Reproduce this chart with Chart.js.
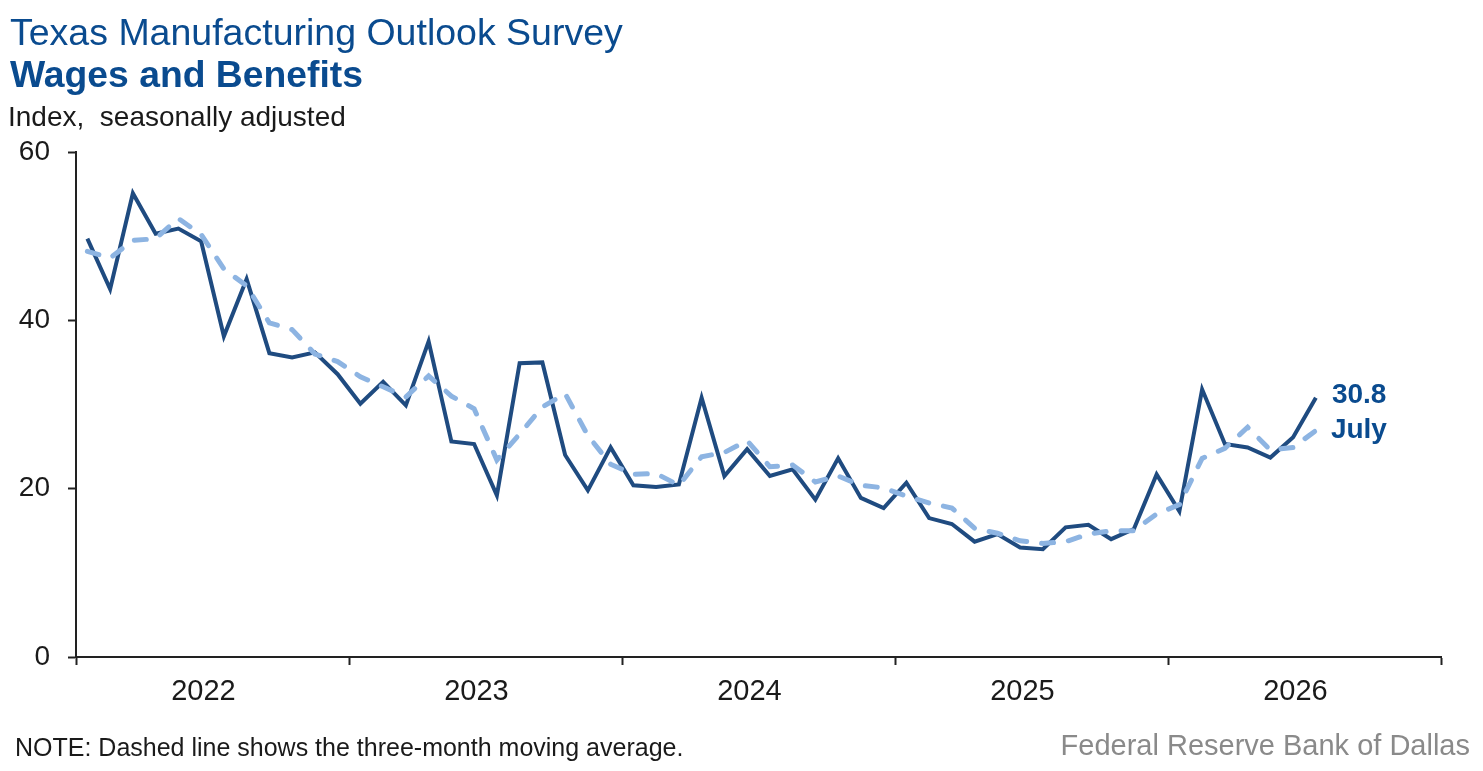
<!DOCTYPE html>
<html>
<head>
<meta charset="utf-8">
<script src="https://cdn.jsdelivr.net/npm/chart.js@4"></script>
<style>
  body { margin: 0; background: #fff; font-family: "Liberation Sans", Arial, sans-serif; }
  #wrap { position: relative; width: 1483px; height: 771px; overflow: hidden; }
  #wagesChart { position: absolute; left: 0; top: 0; }
  .txt { position: absolute; line-height: 1; white-space: pre; }
  #title { left: 10px; top: 14px; font-size: 37.5px; color: #0a4b8f; }
  #subtitle { left: 10px; top: 56px; font-size: 37.3px; font-weight: bold; color: #0a4b8f; }
  #units { left: 8px; top: 103px; font-size: 28px; color: #1a1a1a; }
  #note { left: 15px; top: 735px; font-size: 25px; color: #1a1a1a; }
  #source { right: 13px; top: 731px; font-size: 29px; color: #8a8a8a; }
</style>
</head>
<body>
<div id="wrap">
  <canvas id="wagesChart" width="1483" height="771"></canvas>
  <div class="txt" id="title">Texas Manufacturing Outlook Survey</div>
  <div class="txt" id="subtitle">Wages and Benefits</div>
  <div class="txt" id="units">Index,  seasonally adjusted</div>
  <div class="txt" id="note">NOTE: Dashed line shows the three-month moving average.</div>
  <div class="txt" id="source">Federal Reserve Bank of Dallas</div>
</div>
<script>
// tick labels (one per year)
const years = ["2022", "2023", "2024", "2025", "2026"];
const monthNames = ["January", "February", "March", "April", "May", "June",
  "July", "August", "September", "October", "November", "December"];

// monthly index, Jan 2022 - Jul 2026
const wages = [
  49.7, 43.7, 55.1, 50.3, 50.9, 49.4, 38.1, 44.9, 36.1, 35.6, 36.2, 33.6,
  30.1, 32.7, 29.9, 37.5, 25.6, 25.3, 19.2, 34.9, 35.0, 24.0, 19.8, 24.9,
  20.4, 20.2, 20.5, 30.8, 21.5, 24.7, 21.5, 22.3, 18.7, 23.6, 18.9, 17.7,
  20.7, 16.5, 15.8, 13.7, 14.6, 13.0, 12.8, 15.4, 15.7, 14.0, 15.2, 21.7,
  17.3, 31.8, 25.3, 24.9, 23.7, 26.1, 30.8
];

// three-month moving average (dashed)
const movingAvg = [
  48.2, 47.4, 49.5, 49.7, 52.1, 50.2, 46.1, 44.1, 39.7, 38.9, 36.0, 35.1,
  33.3, 32.1, 30.9, 33.4, 31.0, 29.5, 23.4, 26.5, 29.7, 31.3, 26.3, 22.9,
  21.7, 21.8, 20.4, 23.8, 24.3, 25.7, 22.6, 22.8, 20.8, 21.5, 20.4, 20.1,
  19.1, 18.3, 17.7, 15.3, 14.7, 13.8, 13.5, 13.7, 14.6, 15.0, 15.0, 17.0,
  18.1, 23.6, 24.8, 27.3, 24.6, 24.9, 26.9
];

const axisColor = "#222222";
const lineColor = "#1f4b80";
const avgColor = "#8db4e2";
const labelColor = "#0a4b8f";

// month i sits in the middle of its slot on a 0..60 month axis
const toPoints = (arr) => arr.map((v, i) => ({ x: i + 0.5, y: v }));

const endLabel = {
  id: "endLabel",
  afterDatasetsDraw(chart) {
    const meta = chart.getDatasetMeta(1);
    const last = meta.data[meta.data.length - 1];
    const idx = wages.length - 1;
    const c = chart.ctx;
    c.save();
    c.fillStyle = labelColor;
    c.font = "bold 28px 'Liberation Sans', Arial, sans-serif";
    c.textAlign = "left";
    c.textBaseline = "middle";
    c.fillText(wages[idx].toFixed(1), last.x + 16, last.y - 2);
    c.fillText(monthNames[idx % 12], last.x + 15, last.y + 33);
    c.restore();
  }
};

new Chart(document.getElementById("wagesChart"), {
  type: "line",
  data: {
    datasets: [
      {
        label: "Three-month moving average",
        data: toPoints(movingAvg),
        borderColor: avgColor,
        borderWidth: 5,
        borderDash: [12, 15],
        borderCapStyle: "round",
        pointRadius: 0,
        tension: 0,
      },
      {
        label: "Wages and benefits",
        data: toPoints(wages),
        borderColor: lineColor,
        borderWidth: 4,
        borderJoinStyle: "miter",
        pointRadius: 0,
        tension: 0,
      },
    ],
  },
  options: {
    responsive: false,
    animation: false,
    layout: { padding: { left: 0, right: 42, top: 152, bottom: 54 } },
    plugins: { legend: { display: false }, tooltip: { enabled: false } },
    scales: {
      x: {
        type: "linear",
        min: 0,
        max: 60,
        // year boundaries get a tick mark, year labels sit near mid-year
        afterBuildTicks(scale) {
          const t = [];
          for (let y = 0; y <= 5; y++) {
            t.push({ value: y * 12 });
            if (y < 5) t.push({ value: y * 12 + 5.6 });
          }
          scale.ticks = t;
        },
        afterFit(scale) { scale.height = 60; },
        ticks: {
          autoSkip: false,
          maxRotation: 0,
          padding: 10,
          color: "#1a1a1a",
          font: { family: "'Liberation Sans', Arial, sans-serif", size: 29 },
          callback: (v) => (v % 12 === 0 ? "" : years[Math.floor(v / 12)]),
        },
        grid: {
          drawOnChartArea: false,
          tickLength: 8,
          tickWidth: 2,
          tickColor: (ctx) => (ctx.tick && ctx.tick.value % 12 === 0 ? axisColor : "rgba(0,0,0,0)"),
        },
        border: { color: axisColor, width: 2 },
      },
      y: {
        min: 0,
        max: 60,
        afterFit(scale) { scale.width = 76; },
        ticks: {
          stepSize: 20,
          padding: 18,
          color: "#1a1a1a",
          font: { family: "'Liberation Sans', Arial, sans-serif", size: 28 },
        },
        grid: {
          drawOnChartArea: false,
          tickLength: 8,
          tickWidth: 2,
          tickColor: axisColor,
        },
        border: { color: axisColor, width: 2 },
      },
    },
  },
  plugins: [endLabel],
});
</script>
</body>
</html>
